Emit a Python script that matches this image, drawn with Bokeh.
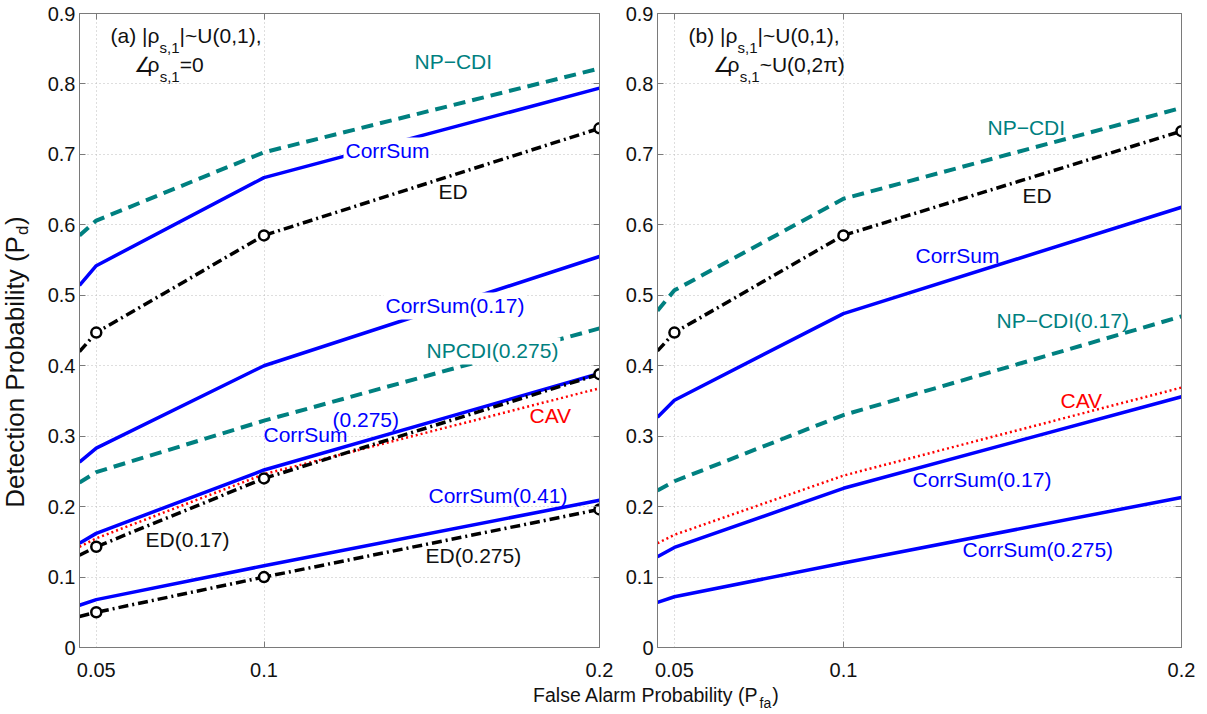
import math
from bokeh.plotting import figure
from bokeh.models import (Range1d, FixedTicker, CustomJSTickFormatter, LinearAxis, Label,
                          AllLabels)
from bokeh.core.properties import value
from bokeh.layouts import row, column
from bokeh.embed import file_html
from bokeh.resources import INLINE

# ---------------- data ----------------
X_PFA = [0.045, 0.05, 0.1, 0.2]
X_MARK = [0.05, 0.1, 0.2]
X_TICKS = [0.05, 0.1, 0.2]
Y_TICKS = [0.0, 0.1, 0.2, 0.3, 0.4, 0.5, 0.6, 0.7, 0.8, 0.9]
X_TICK_LABELS = ["0.05", "0.1", "0.2"]

# panel (a)
A_NPCDI = [0.585, 0.606, 0.703, 0.822]
A_CORRSUM = [0.514, 0.542, 0.667, 0.794]
A_ED = [0.420, 0.447, 0.585, 0.737]
A_CORRSUM_017 = [0.263, 0.283, 0.400, 0.555]
A_NPCDI_0275 = [0.234, 0.249, 0.322, 0.453]
A_CORRSUM_0275 = [0.148, 0.162, 0.252, 0.389]
A_CAV = [0.143, 0.155, 0.246, 0.368]
A_ED_017 = [0.131, 0.143, 0.240, 0.388]
A_CORRSUM_041 = [0.060, 0.068, 0.116, 0.209]
A_ED_0275 = [0.044, 0.050, 0.100, 0.196]

# panel (b)
B_NPCDI = [0.478, 0.507, 0.637, 0.766]
B_ED = [0.421, 0.447, 0.585, 0.733]
B_CORRSUM = [0.327, 0.351, 0.474, 0.625]
B_NPCDI_017 = [0.223, 0.236, 0.330, 0.470]
B_CAV = [0.148, 0.160, 0.244, 0.369]
B_CORRSUM_017 = [0.129, 0.142, 0.226, 0.356]
B_CORRSUM_0275 = [0.064, 0.072, 0.120, 0.213]

# ---------------- style ----------------
FONT = "Liberation Sans"
TEAL = "#008080"
BLUE = "#0000FF"
RED = "#FF0000"
BLACK = "#000000"
TXT = "#111111"
FRAME = "#7a7a7a"
GRID = "#bdbdbd"

DASHED = "12 7"
DASHDOT = "10 4 2 4"
DOTTED = "2 3"

X0, X1 = 0.045, 0.2
FRAME_TOP = 13
FRAME_BOTTOM = 647
H = FRAME_BOTTOM + 11         # main panels end just under the "0" tick label
TICK_H = 24                   # strip holding the x tick labels
TICK_CY = 669                 # page y of the x tick labels' centre
XL_H = 30                     # strip holding the x-axis title
CAP = 0.358                   # half cap-height / em

AW = {' ': 278, '(': 333, ')': 333, 'A': 667, 'D': 722, 'F': 611, 'P': 667, 'U': 722,
      'a': 556, 'b': 556, 'c': 500, 'd': 556, 'e': 556, 'f': 278, 'i': 222,
      'l': 222, 'm': 833, 'n': 556, 'o': 556, 'r': 333, 's': 500, 't': 278,
      'y': 500, '|': 260, '~': 584, ',': 278, '.': 278, '=': 584, '\u03c1': 578,
      '\u03c0': 580}


def tw(s, size):
    return sum(AW.get(c, 556) for c in s) / 1000.0 * size


def py2y(py):
    return (FRAME_BOTTOM - py) * 0.9 / (FRAME_BOTTOM - FRAME_TOP)


def make_px2x(left, right):
    def f(px):
        return X0 + (px - left) * (X1 - X0) / (right - left)
    return f


def style_axis(ax, labels=True):
    ax.ticker = FixedTicker(ticks=X_TICKS if ax.dimension == 0 else Y_TICKS)
    ax.axis_line_color = FRAME
    ax.major_tick_line_color = FRAME
    ax.major_tick_in = 6
    ax.major_tick_out = 0
    ax.minor_tick_line_color = None
    ax.major_label_policy = AllLabels()
    if labels:
        ax.formatter = CustomJSTickFormatter(
            code="return tick.toFixed(2).replace(/0+$/,'').replace(/\\.$/,'');")
        ax.major_label_text_font = FONT
        ax.major_label_text_font_size = "20px"
        ax.major_label_text_color = TXT
        ax.major_label_standoff = 4
    else:
        ax.formatter = CustomJSTickFormatter(code="return '';")
        ax.major_label_text_font_size = "1px"
        ax.major_label_standoff = 0


SUB = 15
MAIN = 21


def text(p, s, x, y, size, color=TXT, align="left", angle=0.0, bg=False):
    lab = Label(x=x, y=y, text=s, text_font=FONT, text_font_size=f"{size}px",
                text_color=color, text_align=align, text_baseline="middle", angle=angle)
    if bg:
        lab.background_fill_color = "white"
        lab.padding = 2
    p.add_layout(lab)


def add_pieces(p, px2x, x0, py, pieces):
    x = x0
    for s, size, dy in pieces:
        text(p, s, px2x(x), py2y(py + dy - CAP * size), size)
        x += tw(s, size)


def make_panel(width, bl, br, frame_left, frame_right, series, marks, labels, title):
    p = figure(width=width, height=H, x_range=Range1d(X0, X1), y_range=Range1d(0, 0.9),
               output_backend="svg", toolbar_location=None,
               min_border_left=bl, min_border_right=br,
               min_border_top=FRAME_TOP, min_border_bottom=H - FRAME_BOTTOM,
               background_fill_color="white", border_fill_color="white")
    p.outline_line_color = FRAME
    px2x = make_px2x(frame_left, frame_right)
    style_axis(p.yaxis[0])
    style_axis(p.xaxis[0], labels=False)
    for loc, ticks in (("above", X_TICKS), ("right", Y_TICKS)):
        ax = LinearAxis()
        style_axis(ax, labels=False)
        ax.ticker = FixedTicker(ticks=ticks)
        p.add_layout(ax, loc)
    for g in (p.xgrid[0], p.ygrid[0]):
        g.grid_line_color = GRID
        g.grid_line_dash = "1 3"
        g.grid_line_width = 1
    p.xgrid[0].ticker = FixedTicker(ticks=X_TICKS)
    p.ygrid[0].ticker = FixedTicker(ticks=Y_TICKS)

    for ys, color, dash, lw in series:
        p.line(X_PFA, ys, line_color=color, line_dash=dash, line_width=lw)
    for ys in marks:
        p.scatter(X_MARK, ys[1:], marker="circle", size=10, line_color=BLACK,
                  line_width=2.5, fill_color="white")
    for s, px, py, color, bg in labels:
        text(p, s, px2x(px), py2y(py - CAP * MAIN), MAIN, color=color, bg=bg)
    for x0, py, pieces in title:
        add_pieces(p, px2x, x0, py, pieces)
    return p


YL_W = 44
W1, BL1, BR1, FL1, FR1 = 576, 35, 21, 79, 599
W2, BL2, BR2, FL2, FR2 = 579, 37, 18, 657, 1181

p1 = make_panel(
    W1, BL1, BR1, FL1, FR1,
    [(A_NPCDI, TEAL, DASHED, 4), (A_NPCDI_0275, TEAL, DASHED, 4),
     (A_CORRSUM, BLUE, "solid", 3.5), (A_CORRSUM_017, BLUE, "solid", 3.5),
     (A_CORRSUM_0275, BLUE, "solid", 3.5), (A_CORRSUM_041, BLUE, "solid", 3.5),
     (A_CAV, RED, DOTTED, 2.5),
     (A_ED, BLACK, DASHDOT, 3.5), (A_ED_017, BLACK, DASHDOT, 3.5),
     (A_ED_0275, BLACK, DASHDOT, 3.5)],
    [A_ED, A_ED_017, A_ED_0275],
    [("NP\u2212CDI", 414, 69, TEAL, False),
     ("CorrSum", 343, 158, BLUE, True),
     ("ED", 438, 199, TXT, False),
     ("CorrSum(0.17)", 383, 313, BLUE, True),
     ("NPCDI(0.275)", 424, 358, TEAL, True),
     ("(0.275)", 332, 427, BLUE, False),
     ("CorrSum", 263, 442, BLUE, False),
     ("CAV", 529, 423, RED, False),
     ("CorrSum(0.41)", 428, 503, BLUE, False),
     ("ED(0.17)", 145, 547, TXT, False),
     ("ED(0.275)", 425, 563, TXT, False)],
    [(110, 43, [("(a) |\u03c1", MAIN, 0), ("s,1", SUB, 9), ("|~U(0,1),", MAIN, 0)]),
     (133, 72, [("\u2220", MAIN, 0)]),
     (147, 72, [("\u03c1", MAIN, 0), ("s,1", SUB, 9), ("=0", MAIN, 0)])])

p2 = make_panel(
    W2, BL2, BR2, FL2, FR2,
    [(B_NPCDI, TEAL, DASHED, 4), (B_NPCDI_017, TEAL, DASHED, 4),
     (B_CORRSUM, BLUE, "solid", 3.5), (B_CORRSUM_017, BLUE, "solid", 3.5),
     (B_CORRSUM_0275, BLUE, "solid", 3.5),
     (B_CAV, RED, DOTTED, 2.5),
     (B_ED, BLACK, DASHDOT, 3.5)],
    [B_ED],
    [("NP\u2212CDI", 987, 135, TEAL, False),
     ("ED", 1022, 203, TXT, False),
     ("CorrSum", 915, 263, BLUE, False),
     ("NP\u2212CDI(0.17)", 996, 328, TEAL, False),
     ("CAV", 1060, 408, RED, False),
     ("CorrSum(0.17)", 912, 487, BLUE, False),
     ("CorrSum(0.275)", 962, 557, BLUE, False)],
    [(688, 43, [("(b) |\u03c1", MAIN, 0), ("s,1", SUB, 9), ("|~U(0,1),", MAIN, 0)]),
     (712, 72, [("\u2220", MAIN, 0)]),
     (727, 72, [("\u03c1", MAIN, 0), ("s,1", SUB, 9), ("~U(0,2\u03c0)", MAIN, 0)])])


def blank(width, height, x_range=None):
    f = figure(width=width, height=height,
               x_range=x_range if x_range is not None else Range1d(0, width),
               y_range=Range1d(0, height),
               output_backend="svg", toolbar_location=None, x_axis_location=None,
               y_axis_location=None, min_border=0, outline_line_color=None,
               background_fill_color="white", border_fill_color="white")
    f.xgrid.visible = False
    f.ygrid.visible = False
    return f


def tick_strip(width, canvas_left, frame_left, frame_right):
    # same x scale as the panel above it, with the frame stretched to the whole strip
    k = (X1 - X0) / (frame_right - frame_left)
    xr = Range1d(X0 - (frame_left - canvas_left) * k, X0 + (canvas_left + width - frame_left) * k)
    s = blank(width, TICK_H, xr)
    s.text(x=X_TICKS, y=[TICK_H - (TICK_CY - H)] * len(X_TICKS), text=X_TICK_LABELS,
           text_font=value(FONT), text_font_size=value("20px"), text_color=TXT,
           text_align="center", text_baseline="middle")
    return s


t1 = tick_strip(YL_W + W1, 0, FL1, FR1)
t2 = tick_strip(W2, YL_W + W1, FL2, FR2)

# y label (rotated, reads bottom to top)
ylab = blank(YL_W, H)
YF = 26
YS = 17
END_Y = 231          # page y where "(P" ends
xc = 14              # page x of the main text's centre line
ylab.add_layout(Label(x=xc, y=H - END_Y, text="Detection Probability (P", angle=math.pi / 2,
                      text_font=FONT, text_font_size=f"{YF}px", text_color=TXT,
                      text_align="right", text_baseline="middle"))
ylab.add_layout(Label(x=xc + 8, y=H - END_Y + 1, text="d", angle=math.pi / 2,
                      text_font=FONT, text_font_size=f"{YS}px", text_color=TXT,
                      text_align="left", text_baseline="middle"))
ylab.add_layout(Label(x=xc, y=H - END_Y + 2 + tw("d", YS), text=")", angle=math.pi / 2,
                      text_font=FONT, text_font_size=f"{YF}px", text_color=TXT,
                      text_align="left", text_baseline="middle"))

# x label
XTOP = H + TICK_H
XL_W = YL_W + W1 + W2
xlab = blank(XL_W, XL_H)
XF = 19.5
END_X = 758
xlab.add_layout(Label(x=END_X, y=XL_H - (694 - XTOP), text="False Alarm Probability (P",
                      text_font=FONT, text_font_size=f"{XF}px", text_color=TXT,
                      text_align="right", text_baseline="middle"))
xlab.add_layout(Label(x=END_X + 1, y=XL_H - (702 - XTOP), text="fa", text_font=FONT,
                      text_font_size="14px", text_color=TXT, text_align="left",
                      text_baseline="middle"))
xlab.add_layout(Label(x=END_X + 2 + tw("fa", 14), y=XL_H - (694 - XTOP), text=")",
                      text_font=FONT, text_font_size=f"{XF}px", text_color=TXT,
                      text_align="left", text_baseline="middle"))

layout = column(row(ylab, p1, p2), row(t1, t2), xlab)
open("out.html", "w").write(file_html(layout, INLINE))
